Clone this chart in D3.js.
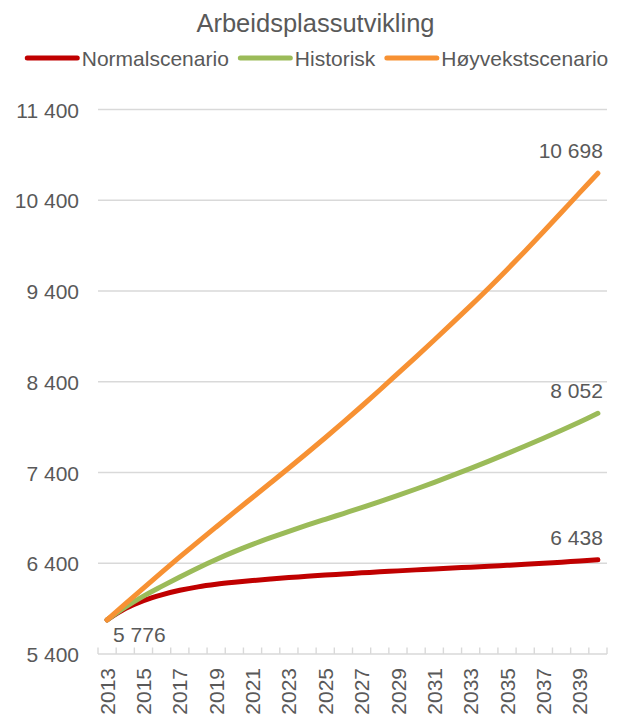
<!DOCTYPE html>
<html><head><meta charset="utf-8">
<script src="https://cdn.jsdelivr.net/npm/d3@7"></script>
<style>
body{margin:0;background:#fff}
svg{display:block}
text{font-family:"Liberation Sans",Arial,sans-serif;fill:#595959}
</style></head>
<body><svg id="c" width="623" height="715"></svg>
<script>
const title = "Arbeidsplassutvikling";
const years = ["2013","2014","2015","2016","2017","2018","2019","2020","2021","2022","2023","2024","2025","2026","2027","2028","2029","2030","2031","2032","2033","2034","2035","2036","2037","2038","2039","2040"];
const seriesNames = ["Normalscenario","Historisk","Høyvekstscenario"];
const normalscenario = [5776,5900,5988,6052,6102,6140,6168,6190,6209,6226,6242,6256,6270,6282,6294,6305,6316,6327,6337,6347,6357,6367,6377,6388,6400,6412,6425,6438];
const historisk = [5776,5915,6037,6145,6249,6349,6442,6528,6608,6682,6752,6819,6884,6948,7012,7078,7147,7218,7292,7368,7446,7526,7608,7692,7778,7866,7957,8052];
const hoyvekst = [5776,5952,6127,6300,6470,6636,6800,6963,7125,7287,7450,7615,7783,7955,8130,8309,8492,8675,8860,9048,9239,9434,9635,9841,10052,10267,10484,10698];
const yTicks = [5400,6400,7400,8400,9400,10400,11400];
const colors = ["#C00000","#9BBB59","#F79133"];
const seriesValues = [normalscenario, historisk, hoyvekst];

const fmt = v => d3.format(",")(v).replace(/,/g, " ");
const svg = d3.select("#c");
const grid = "#d9d9d9";

const x = d3.scaleBand().domain(years).range([98, 607]).paddingInner(0).paddingOuter(0);
const cx = d => x(d) + x.bandwidth() / 2;
const y = d3.scaleLinear().domain([5400, 11400]).range([654, 109.5]);

// title
svg.append("text").attr("x", 315.5).attr("y", 32).attr("text-anchor", "middle")
  .style("font-size", "25.5px").text(title);

// gridlines
svg.append("g").selectAll("line").data(yTicks).join("line")
  .attr("x1", 98).attr("x2", 607)
  .attr("y1", d => y(d)).attr("y2", d => y(d))
  .attr("stroke", grid).attr("stroke-width", 1.4);

// y axis labels
const yAxis = svg.append("g").attr("transform", "translate(79,0)")
  .call(d3.axisLeft(y).tickValues(yTicks).tickSize(0).tickPadding(0).tickFormat(fmt));
yAxis.select(".domain").remove();
yAxis.selectAll("text").style("font-size", "21px").attr("fill", "#595959").attr("dy", "0.36em");

// x axis boundary ticks
const bounds = years.map(d => x(d)).concat([x(years[years.length - 1]) + x.bandwidth()]);
svg.append("g").selectAll("line").data(bounds).join("line")
  .attr("x1", d => d).attr("x2", d => d).attr("y1", 647.5).attr("y2", 654)
  .attr("stroke", grid).attr("stroke-width", 1.4);

// x axis labels
const xAxis = svg.append("g").attr("transform", "translate(0,654)")
  .call(d3.axisBottom(x).tickValues(years.filter((d, i) => i % 2 === 0)).tickSize(0).tickPadding(0));
xAxis.select(".domain").remove();
xAxis.selectAll("text").style("font-size", "21px").attr("fill", "#595959")
  .attr("transform", "rotate(-90)").attr("x", -14).attr("y", 0).attr("dy", "0.36em")
  .attr("text-anchor", "end");

// lines
const line = d3.line().x((d, i) => cx(years[i])).y(d => y(d)).curve(d3.curveCatmullRom.alpha(0.5));
svg.append("g").selectAll("path").data(seriesValues).join("path")
  .attr("d", d => line(d)).attr("fill", "none")
  .attr("stroke", (d, i) => colors[i]).attr("stroke-width", 5)
  .attr("stroke-linecap", "round").attr("stroke-linejoin", "round");

// end labels
const lastYear = years[years.length - 1];
svg.append("g").selectAll("text").data(seriesValues).join("text")
  .attr("x", cx(lastYear) + 5).attr("y", d => y(d[d.length - 1]) - 15)
  .attr("text-anchor", "end").style("font-size", "21px").text(d => fmt(d[d.length - 1]));
// start label
svg.append("text").attr("x", cx(years[0]) + 6).attr("y", y(normalscenario[0]) + 22)
  .style("font-size", "21px").text(fmt(normalscenario[0]));

// legend
const lg = svg.append("g");
let cursor = 0;
seriesNames.forEach((name, i) => {
  const g = lg.append("g");
  g.append("line").attr("x1", cursor).attr("x2", cursor + 50).attr("y1", 58).attr("y2", 58)
    .attr("stroke", colors[i]).attr("stroke-width", 5).attr("stroke-linecap", "round");
  const t = g.append("text").attr("x", cursor + 54.5).attr("y", 65.5).style("font-size", "21px").text(name);
  const w = t.node().getComputedTextLength();
  cursor = cursor + 54.5 + w + 11.5;
});
const totalW = cursor - 11.5 + 2.5;
lg.attr("transform", `translate(${316.5 - totalW / 2 + 2.5},0)`);
</script>
</body></html>
